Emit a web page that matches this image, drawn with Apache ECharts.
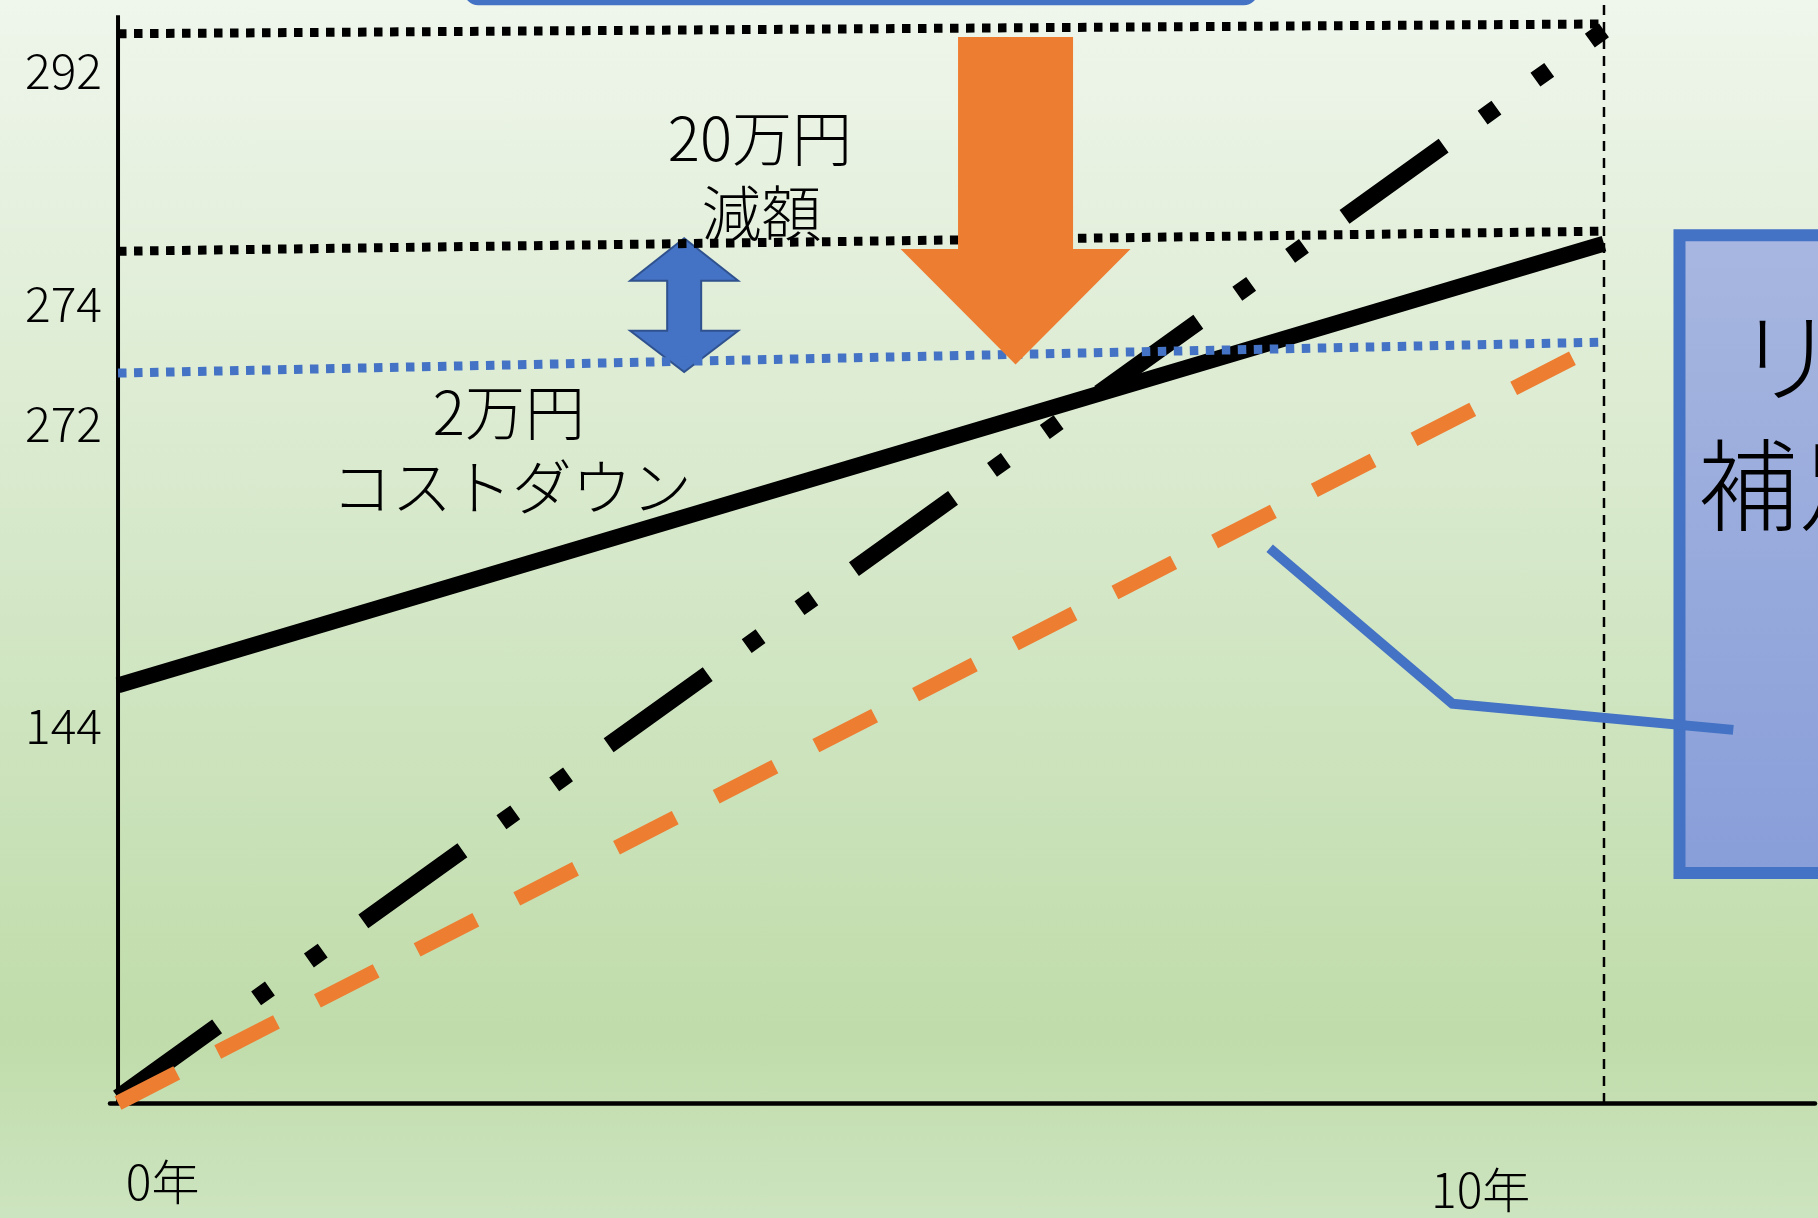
<!DOCTYPE html>
<html><head><meta charset="utf-8">
<script src="https://cdn.jsdelivr.net/npm/echarts@6/dist/echarts.min.js"></script>
<style>
html,body{margin:0;padding:0;width:1818px;height:1218px;overflow:hidden;}
#c{width:1818px;height:1218px;background:linear-gradient(to bottom,#eff6ec 0%,#e1eed8 25%,#d0e5c2 55%,#c0dcaa 85%,#cde4c0 100%);}
</style></head><body><div id="c"></div>
<script>
const FONT = '"Noto Sans CJK JP", "Noto Sans", sans-serif';
const FW = 300;

// ---- axis ticks ----
const years = [0, 10];
const xTickLabels = ['0年', '10年'];
const xTickPos = [0.30, 9.17];
const yTickLabels = ['292', '274', '272', '144'];
const yTickPos = [94.85, 73.5, 62.4, 34.7];

// ---- series values (schematic units) ----
const costBefore   = [98.3, 99.2];   // top dotted black
const costAfter    = [78.3, 80.15];  // second dotted black
const costDownLine = [67.1, 69.95];  // blue dotted
const solidTotal   = [38.4, 79.0];   // solid black
const dashDotTotal = [0.5, 98.6];    // dash-dot black
const orangeTotal  = [0, 69.95];     // orange dashed
const calloutX = [7.75, 8.98, 10.87];
const calloutY = [51.0, 36.7, 34.3];
const tenYearLine = [0, 101.4];
const yAxisLine = [0, 100];

// ---- annotation anchors (data units) ----
const reduceArrow = {x: 6.04, top: 98.0, neck: 78.5, tip: 67.9};
const diffArrow = {x: 3.81, top: 79.5, neckTop: 75.6, neckBottom: 71.0, bottom: 67.2};
const noteTexts = [
  {text: '20万円', x: 4.32, y: 88.7},
  {text: '減額', x: 4.33, y: 81.8},
  {text: '2万円', x: 2.63, y: 63.5},
  {text: 'コストダウン', x: 2.65, y: 56.6}
];
const boxTexts = [
  {text: 'リフォーム', x: 10.888, y: 68.57},
  {text: '補足', x: 10.632, y: 56.8}
];

const chart = echarts.init(document.getElementById('c'), null, {renderer: 'canvas'});

function seg(xs, ys, style, extra) {
  return Object.assign({
    type: 'line', symbol: 'none', silent: true, animation: false,
    data: xs.map((x, i) => [x, ys[i]]),
    lineStyle: Object.assign({cap: 'butt', join: 'miter'}, style)
  }, extra || {});
}

function nearestLabel(v, pos, labels) {
  let best = 0;
  for (let i = 1; i < pos.length; i++) if (Math.abs(pos[i] - v) < Math.abs(pos[best] - v)) best = i;
  return labels[best];
}

chart.setOption({
  animation: false,
  backgroundColor: 'transparent',
  grid: {left: 110, right: 3, top: 0, bottom: 115, containLabel: false},
  xAxis: {
    type: 'value', min: -0.054, max: 11.42,
    axisLine: {show: true, lineStyle: {color: '#000', width: 4.5}},
    axisTick: {show: false}, splitLine: {show: false},
    axisLabel: {
      customValues: xTickPos, margin: 55,
      formatter: function (v) {
        const t = nearestLabel(v, xTickPos, xTickLabels);
        return t === xTickLabels[0] ? '{a|' + t + '}' : '{b|' + t + '}';
      },
      rich: {
        a: {fontSize: 48, fontFamily: FONT, fontWeight: FW, color: '#000'},
        b: {fontSize: 48, fontFamily: FONT, fontWeight: FW, color: '#000', padding: [8, 0, 0, 0]}
      }
    }
  },
  yAxis: {
    type: 'value', min: 0, max: 101.4,
    axisLine: {show: false}, axisTick: {show: false}, splitLine: {show: false},
    axisLabel: {
      customValues: yTickPos, margin: 8,
      fontSize: 48, fontFamily: FONT, fontWeight: FW, color: '#000',
      formatter: function (v) { return nearestLabel(v, yTickPos, yTickLabels); }
    }
  },
  series: [
    seg([10, 10], tenYearLine, {color: '#000', width: 2.5, type: [10, 7]}),
    seg([0, 0], yAxisLine, {color: '#000', width: 4}),
    seg(years, solidTotal, {color: '#000', width: 16}),
    seg(years, dashDotTotal, {color: '#000', width: 17, type: [122, 48, 17, 48, 17, 50]}),
    seg(years, orangeTotal, {color: '#ed7d31', width: 15, type: [66, 46]}),
    seg(years, costDownLine, {color: '#4472c4', width: 9, type: [8.5, 7.5]}),
    seg(years, costBefore, {color: '#000', width: 9, type: [8.5, 7.5]}),
    seg(years, costAfter, {color: '#000', width: 9, type: [8.5, 7.5]}),
    seg(calloutX, calloutY, {color: '#4472c4', width: 10}, {z: 5})
  ]
});

function P(x, y) { return chart.convertToPixel({gridIndex: 0}, [x, y]); }

const g = [];
// top rounded box edge
(function () {
  const a = P(2.33, 101.0), b = P(7.67, 101.0);
  g.push({type: 'rect', z: 1, silent: true,
    shape: {x: a[0], y: a[1] - 44, width: b[0] - a[0], height: 45, r: 14},
    style: {fill: '#4472c4', stroke: 'none'}});
})();
// right box
(function () {
  const a = P(10.508, 79.78), b = P(13, 21.14);
  g.push({type: 'rect', z: 1, silent: true,
    shape: {x: a[0], y: a[1], width: b[0] - a[0], height: b[1] - a[1]},
    style: {
      fill: new echarts.graphic.LinearGradient(0, 0, 0, 1, [
        {offset: 0, color: '#a8b7e0'}, {offset: 1, color: '#889ed9'}]),
      stroke: '#4472c4', lineWidth: 12
    }});
  boxTexts.forEach(function (n) {
    const p = P(n.x, n.y);
    g.push({type: 'text', z: 6, silent: true,
      style: {text: n.text, x: p[0], y: p[1], font: FW + ' 100px ' + FONT, fill: '#000',
        textAlign: 'left', textVerticalAlign: 'middle', align: 'left', verticalAlign: 'middle'}});
  });
})();
// double arrow (blue)
(function () {
  const d = diffArrow;
  const cx = P(d.x, 0)[0];
  const yt = P(0, d.top)[1], ynt = P(0, d.neckTop)[1], ynb = P(0, d.neckBottom)[1], yb = P(0, d.bottom)[1];
  const H = 54, S = 17;
  g.push({type: 'polygon', z: 1, silent: true,
    shape: {points: [[cx, yt], [cx + H, ynt], [cx + S, ynt], [cx + S, ynb], [cx + H, ynb], [cx, yb],
      [cx - H, ynb], [cx - S, ynb], [cx - S, ynt], [cx - H, ynt]]},
    style: {fill: '#4472c4', stroke: '#2f528f', lineWidth: 2}});
})();
// orange arrow
(function () {
  const r = reduceArrow;
  const cx = P(r.x, 0)[0];
  const yt = P(0, r.top)[1], yn = P(0, r.neck)[1], yp = P(0, r.tip)[1];
  const S = 57.5, H = 115;
  g.push({type: 'polygon', z: 10, silent: true,
    shape: {points: [[cx - S, yt], [cx + S, yt], [cx + S, yn], [cx + H, yn], [cx, yp], [cx - H, yn], [cx - S, yn]]},
    style: {fill: '#ed7d31', stroke: 'none'}});
})();
// annotation texts
noteTexts.forEach(function (n) {
  const p = P(n.x, n.y);
  g.push({type: 'text', z: 12, silent: true,
    style: {text: n.text, x: p[0], y: p[1], font: FW + ' 60px ' + FONT, fill: '#000',
      textAlign: 'center', textVerticalAlign: 'middle', align: 'center', verticalAlign: 'middle'}});
});

chart.setOption({graphic: {elements: g}});
</script>
</body></html>
